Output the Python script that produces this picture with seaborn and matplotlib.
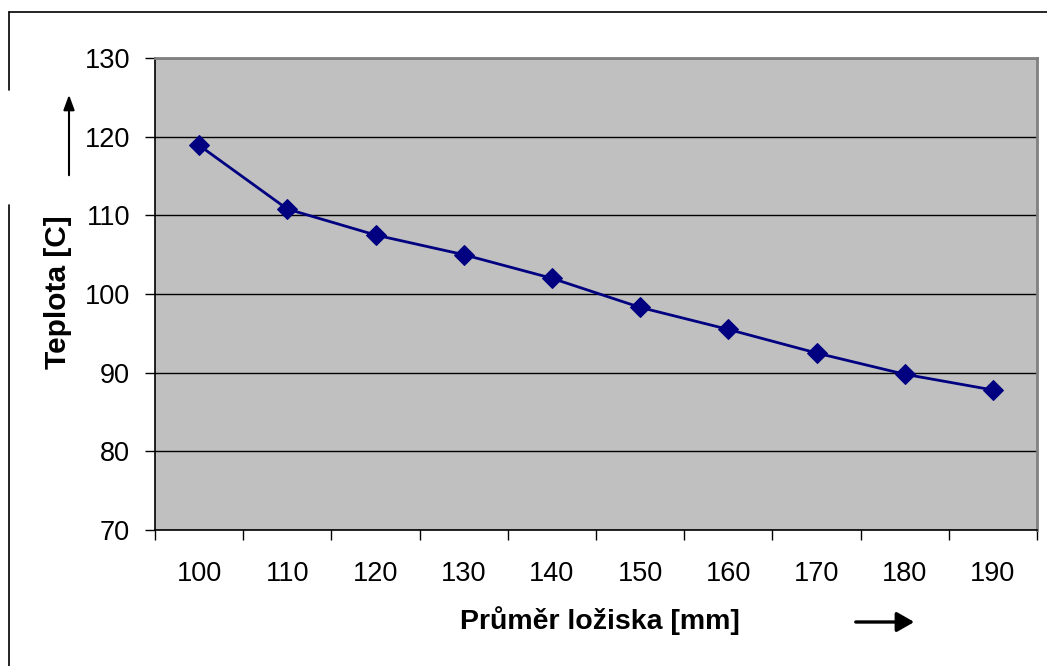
import matplotlib
matplotlib.use("Agg")
import matplotlib.pyplot as plt
import seaborn as sns
import numpy as np
import pandas as pd
from matplotlib.ticker import FixedLocator, NullFormatter
from matplotlib.patches import FancyArrowPatch
from matplotlib.lines import Line2D

categories = ["100", "110", "120", "130", "140", "150", "160", "170", "180", "190"]
temperatures = [118.9, 110.8, 107.5, 105.0, 102.0, 98.3, 95.5, 92.5, 89.8, 87.8]
y_ticks = [70, 80, 90, 100, 110, 120, 130]

sns.set_theme(style="white")
plt.rcParams['font.family'] = ['Liberation Sans', 'DejaVu Sans']
plt.rcParams['text.color'] = 'black'

df = pd.DataFrame({"prumer": categories, "teplota": temperatures})

fig = plt.figure(figsize=(10.47, 6.66), dpi=100)
ax = fig.add_axes([155/1047, 1-530/666, (1037-155)/1047, (530-58)/666])
ax.set_facecolor("#C0C0C0")

n = len(categories)
pos = np.arange(n)
sns.lineplot(x=pos, y=df["teplota"], ax=ax, color="#000080", lw=2, zorder=3,
             marker="D", markersize=10.5, markerfacecolor="#000080",
             markeredgecolor="#000080")

ax.set_xlim(-0.5, n - 0.5)
ax.set_ylim(70, 130)
ax.set_yticks(y_ticks)
ax.set_yticklabels([str(t) for t in y_ticks], fontsize=19.5)
ax.yaxis.grid(True, color="black", lw=1)
ax.xaxis.grid(False)

ax.set_xticks(pos)
ax.set_xticklabels(categories, fontsize=19.5)
ax.xaxis.set_minor_locator(FixedLocator(np.arange(-0.5, n, 1.0)))
ax.xaxis.set_minor_formatter(NullFormatter())
ax.tick_params(axis="x", which="major", length=0, pad=22, labelcolor="black")
ax.tick_params(axis="x", which="minor", length=7, width=1, color="black", bottom=True, direction="out")
ax.tick_params(axis="y", which="major", length=7, width=1, color="black", left=True,
               direction="out", pad=11, labelcolor="black")

for side in ["top", "right"]:
    ax.spines[side].set_color("#808080")
    ax.spines[side].set_linewidth(2)
for side in ["left", "bottom"]:
    ax.spines[side].set_color("black")
    ax.spines[side].set_linewidth(1.2)
    ax.spines[side].set_visible(True)

ax.set_xlabel("")
ax.set_ylabel("")

fig.text(600/1047, 1-621/666, "Průměr ložiska [mm]", fontsize=20.5, fontweight="bold",
         ha="center", va="center", color="black")
fig.text(58/1047, 1-292/666, "Teplota [C]", fontsize=21.5, fontweight="bold",
         ha="center", va="center", rotation=90, color="black")

# arrows
fig.patches.append(FancyArrowPatch((853/1047, 1-622/666), (917/1047, 1-622/666),
                                   transform=fig.transFigure, arrowstyle="-|>,head_length=7,head_width=4",
                                   color="black", lw=2.4, mutation_scale=1.5))
fig.patches.append(FancyArrowPatch((69/1047, 1-178/666), (69/1047, 1-92/666),
                                   transform=fig.transFigure, arrowstyle="-|>,head_length=6,head_width=2.2",
                                   color="black", lw=1.5, mutation_scale=1.5))

# chart area border fragments
fig.add_artist(Line2D([9/1047, 1.0], [1-12/666, 1-12/666], transform=fig.transFigure, color="black", lw=1.2))
fig.add_artist(Line2D([9/1047, 9/1047], [1-12/666, 1-90/666], transform=fig.transFigure, color="black", lw=1.2))
fig.add_artist(Line2D([9/1047, 9/1047], [1-205/666, 0.0], transform=fig.transFigure, color="black", lw=1.2))

fig.savefig("out.png", dpi=100)
